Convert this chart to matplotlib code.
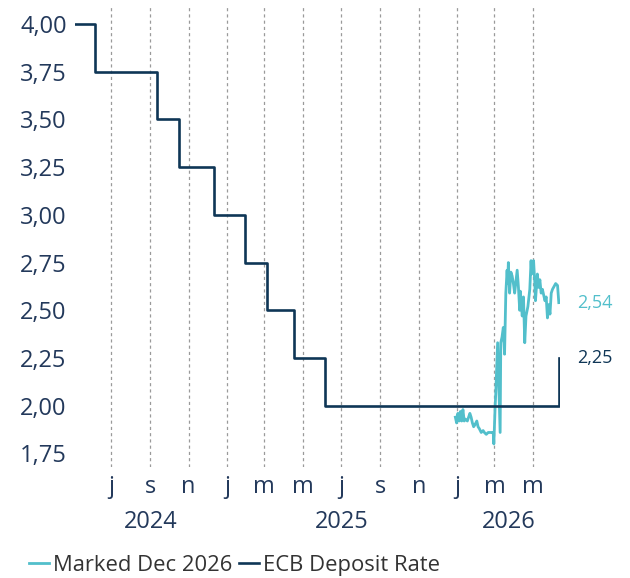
import pandas as pd
import matplotlib.pyplot as plt
import matplotlib.dates as mdates
import matplotlib.transforms as mtransforms

# ECB deposit rate (step changes)
ecb_dates = ["2024-05-05", "2024-06-06", "2024-09-12", "2024-10-17", "2024-12-12",
             "2025-01-30", "2025-03-06", "2025-04-17", "2025-06-05", "2026-06-11"]
ecb_rates = [4.00, 3.75, 3.50, 3.25, 3.00, 2.75, 2.50, 2.25, 2.00, 2.25]

# market pricing for Dec 2026
mkt_dates = ["2025-12-29", "2025-12-31", "2026-01-02", "2026-01-04", "2026-01-06",
             "2026-01-08", "2026-01-10", "2026-01-12", "2026-01-14", "2026-01-17",
             "2026-01-19", "2026-01-21", "2026-01-23", "2026-01-25", "2026-01-27",
             "2026-01-29", "2026-02-01", "2026-02-03", "2026-02-05", "2026-02-08",
             "2026-02-11", "2026-02-13", "2026-02-16", "2026-02-19", "2026-02-21",
             "2026-02-24", "2026-02-27", "2026-02-28", "2026-03-02", "2026-03-03",
             "2026-03-06", "2026-03-10", "2026-03-11", "2026-03-13", "2026-03-15",
             "2026-03-17", "2026-03-19", "2026-03-21", "2026-03-22", "2026-03-23",
             "2026-03-25", "2026-03-27", "2026-03-29", "2026-03-31", "2026-04-02",
             "2026-04-06", "2026-04-08", "2026-04-10", "2026-04-11", "2026-04-14",
             "2026-04-16", "2026-04-18", "2026-04-20", "2026-04-23", "2026-04-26",
             "2026-04-28", "2026-04-29", "2026-05-02", "2026-05-04", "2026-05-05",
             "2026-05-08", "2026-05-10", "2026-05-12", "2026-05-14", "2026-05-16",
             "2026-05-20", "2026-05-22", "2026-05-24", "2026-05-26", "2026-05-28",
             "2026-05-30", "2026-06-01", "2026-06-06", "2026-06-09", "2026-06-11"]
mkt_rates = [1.94, 1.91, 1.96, 1.92, 1.97, 1.92, 1.98, 1.92, 1.93, 1.92,
             1.94, 1.96, 1.94, 1.91, 1.89, 1.90, 1.92, 1.89, 1.88, 1.86,
             1.87, 1.86, 1.85, 1.86, 1.86, 1.86, 1.86, 1.80, 1.99, 2.06,
             2.33, 1.86, 2.33, 2.36, 2.41, 2.27, 2.59, 2.71, 2.64, 2.75,
             2.59, 2.70, 2.68, 2.64, 2.59, 2.71, 2.62, 2.50, 2.60, 2.47,
             2.57, 2.33, 2.47, 2.52, 2.61, 2.76, 2.69, 2.76, 2.64, 2.55,
             2.69, 2.62, 2.66, 2.59, 2.61, 2.55, 2.57, 2.46, 2.53, 2.48,
             2.59, 2.61, 2.64, 2.63, 2.54]

tick_dates = ["2024-07-01", "2024-09-01", "2024-11-01", "2025-01-01", "2025-03-01",
              "2025-05-01", "2025-07-01", "2025-09-01", "2025-11-01", "2026-01-01",
              "2026-03-01", "2026-05-01"]
tick_labels = ["j", "s", "n", "j", "m", "m", "j", "s", "n", "j", "m", "m"]
years = ["2024", "2025", "2026"]

navy = "#0f3656"
teal = "#52bfcb"
txt = "#23395b"

plt.rcParams["font.family"] = ["Open Sans", "DejaVu Sans"]

fig = plt.figure(figsize=(6.3, 5.78), dpi=100)
ax = fig.add_axes([0.119, 0.192, 0.77, 0.796])

ecb_x = pd.to_datetime(ecb_dates)
mkt_x = pd.to_datetime(mkt_dates)
l1, = ax.plot(mkt_x, mkt_rates, color=teal, lw=2.0, label="Marked Dec 2026")
l2, = ax.plot(ecb_x, ecb_rates, color=navy, lw=1.9, drawstyle="steps-post",
              label="ECB Deposit Rate")

x0 = pd.Timestamp("2024-05-05")
x1 = pd.Timestamp("2026-06-13")
ax.set_xlim(x0, x1)
ax.set_ylim(1.679, 4.089)

ax.set_yticks([1.75, 2.0, 2.25, 2.5, 2.75, 3.0, 3.25, 3.5, 3.75, 4.0])
ax.set_yticklabels([f"{v:.2f}".replace(".", ",") for v in ax.get_yticks()])
ax.set_xticks(pd.to_datetime(tick_dates))
ax.set_xticklabels(tick_labels)
ax.tick_params(axis="both", length=0, labelsize=17, colors=txt)
ax.tick_params(axis="y", pad=6)
ax.tick_params(axis="x", pad=6)

ax.grid(axis="x", color="#9a9a9a", lw=0.9, linestyle=(0, (2.5, 2.5)))
ax.grid(axis="y", visible=False)
for s in ax.spines.values():
    s.set_visible(False)

# year labels centred on the visible part of each year
trans = mtransforms.blended_transform_factory(ax.transData, ax.transAxes)
for y in years:
    a = max(pd.Timestamp(f"{y}-01-01"), x0)
    b = min(pd.Timestamp(f"{int(y) + 1}-01-01"), x1)
    mid = a + (b - a) / 2
    ax.text(mdates.date2num(mid), -0.12, y, transform=trans, ha="center",
            va="center", fontsize=17, color=txt)

# end labels
ax.annotate(f"{mkt_rates[-1]:.2f}".replace(".", ","), (mkt_x[-1], mkt_rates[-1]),
            xytext=(13, 0), textcoords="offset points", va="center",
            fontsize=13, color=teal, annotation_clip=False)
ax.annotate(f"{ecb_rates[-1]:.2f}".replace(".", ","), (ecb_x[-1], ecb_rates[-1]),
            xytext=(13, 0), textcoords="offset points", va="center",
            fontsize=13, color=navy, annotation_clip=False)

fig.legend(handles=[l1, l2], loc="lower left", bbox_to_anchor=(0.015, -0.03),
           ncol=2, frameon=False, fontsize=15.8, handlelength=0.9,
           handletextpad=0.2, columnspacing=0.3, labelcolor="#333333")

fig.savefig("out.png", dpi=100)
